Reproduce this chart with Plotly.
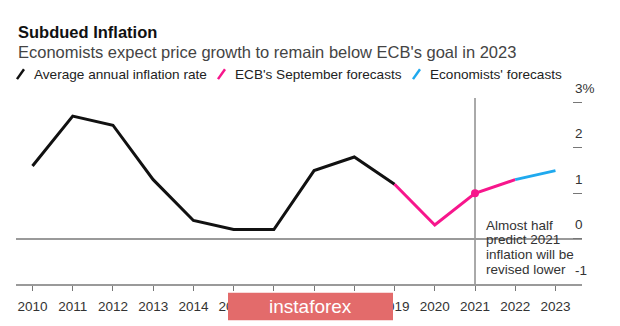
import plotly.graph_objects as go

# ---- data ----
years_actual = [2010, 2011, 2012, 2013, 2014, 2015, 2016, 2017, 2018, 2019]
inflation_actual = [1.6, 2.7, 2.5, 1.3, 0.4, 0.2, 0.2, 1.5, 1.8, 1.2]
years_ecb = [2019, 2020, 2021, 2022]
ecb_forecast = [1.2, 0.3, 1.0, 1.3]
years_econ = [2022, 2023]
econ_forecast = [1.3, 1.5]
x_ticks = list(range(2010, 2024))
y_ticks = [-1, 0, 1, 2, 3]
y_tick_text = ["-1", "0", "1", "2", "3%"]
note_lines = ["Almost half", "predict 2021", "inflation will be", "revised lower"]
legend_items = [("Average annual inflation rate", "#111111"),
                ("ECB's September forecasts", "#f7168c"),
                ("Economists' forecasts", "#1fa9ee")]

W, H = 620, 326
L, R, T, B = 16, 38, 97.8, 38
PW, PH = W - L - R, H - T - B
FONT = "Liberation Sans, Arial, sans-serif"
PINK = "#f7168c"
BLUE = "#1fa9ee"


def px(xp):
    return (xp - L) / PW


def py(yp):
    return (H - B - yp) / PH


fig = go.Figure()
fig.add_trace(go.Scatter(x=years_actual, y=inflation_actual, mode="lines",
                         line=dict(color="#111111", width=3), showlegend=False))
fig.add_trace(go.Scatter(x=years_ecb, y=ecb_forecast, mode="lines",
                         line=dict(color=PINK, width=3), showlegend=False))
fig.add_trace(go.Scatter(x=years_econ, y=econ_forecast, mode="lines",
                         line=dict(color=BLUE, width=3), showlegend=False))
fig.add_trace(go.Scatter(x=[years_ecb[2]], y=[ecb_forecast[2]], mode="markers",
                         marker=dict(color=PINK, size=8), showlegend=False))

shapes = []
# vertical line at 2021
shapes.append(dict(type="line", xref="x", yref="paper", x0=2021, x1=2021,
                   y0=0, y1=1, line=dict(color="#555555", width=1), layer="below"))

annotations = []
# title / subtitle
annotations.append(dict(xref="paper", yref="paper", x=px(16), y=py(30.5), xanchor="left",
                        yanchor="middle", showarrow=False, text="<b>Subdued Inflation</b>",
                        font=dict(family=FONT, size=16.5, color="#111111")))
annotations.append(dict(xref="paper", yref="paper", x=px(16), y=py(50.5), xanchor="left",
                        yanchor="middle", showarrow=False,
                        text="Economists expect price growth to remain below ECB's goal in 2023",
                        font=dict(family=FONT, size=16.5, color="#444444")))
# legend
leg_x = [16, 217, 412]
for (label, col), lx in zip(legend_items, leg_x):
    shapes.append(dict(type="line", xref="paper", yref="paper",
                       x0=px(lx + 1), x1=px(lx + 8), y0=py(78.5), y1=py(68.5),
                       line=dict(color=col, width=2.5)))
    annotations.append(dict(xref="paper", yref="paper", x=px(lx + 16), y=py(73.3),
                            xanchor="left", yanchor="middle", showarrow=False, text=label,
                            font=dict(family=FONT, size=13.6, color="#222222")))
# y tick labels
for v, t in zip(y_ticks, y_tick_text):
    annotations.append(dict(xref="paper", yref="y", x=px(573), y=v, xanchor="left",
                            yanchor="middle", yshift=14, showarrow=False, text=t,
                            font=dict(family=FONT, size=13.5, color="#333333")))
# note
for i, line in enumerate(note_lines):
    annotations.append(dict(xref="x", yref="paper", x=2021, xshift=9, y=py(228 + 15 * i),
                            xanchor="left", yanchor="middle", showarrow=False, text=line,
                            font=dict(family=FONT, size=13.5, color="#333333")))
# watermark
shapes.append(dict(type="rect", xref="paper", yref="paper", x0=px(228), x1=px(393),
                   y0=py(325), y1=py(297), fillcolor="#e36b6b", line=dict(width=0),
                   layer="above"))
annotations.append(dict(xref="paper", yref="paper", x=px(310.5), y=py(311), xanchor="center",
                        yanchor="middle", showarrow=False, text="instaforex",
                        font=dict(family=FONT, size=19, color="#ffffff")))

fig.update_layout(
    width=W, height=H,
    margin=dict(l=L, r=R, t=T, b=B, pad=0),
    paper_bgcolor="white", plot_bgcolor="white",
    showlegend=False,
    shapes=shapes, annotations=annotations,
    xaxis=dict(range=[2009.59, 2023.66], tickvals=x_ticks, ticktext=[str(v) for v in x_ticks],
               showgrid=False, zeroline=False, showline=True, linecolor="#9a9a9a",
               linewidth=1.5, ticks="outside", ticklen=5, tickcolor="#777777", tickwidth=1,
               tickfont=dict(family=FONT, size=13.5, color="#333333"),
               ticklabelstandoff=4, fixedrange=True),
    yaxis=dict(range=[-1, 3.1], side="right", tickvals=y_ticks, showticklabels=False,
               showgrid=False, zeroline=True, zerolinecolor="#9a9a9a", zerolinewidth=1.5,
               showline=False, ticks="inside", ticklen=9, tickcolor="#777777", tickwidth=1,
               fixedrange=True),
)

fig.write_html("out.html")
